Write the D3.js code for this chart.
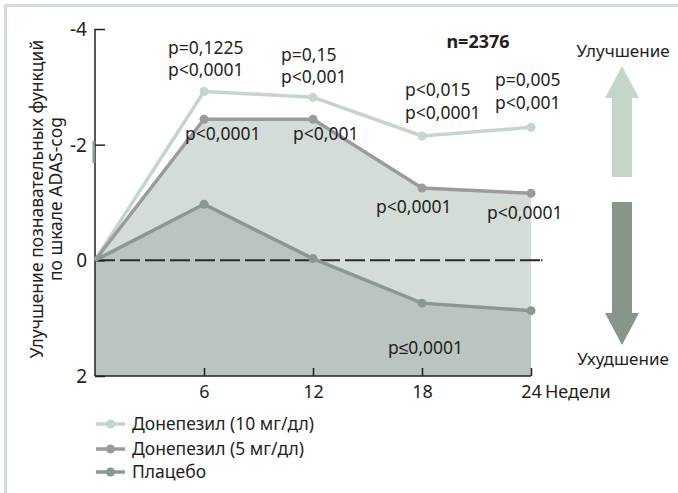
<!DOCTYPE html>
<html>
<head>
<meta charset="utf-8">
<script src="https://cdn.jsdelivr.net/npm/d3@7"></script>
<style>
body { margin: 0; background: #fff; }
svg text { font-family: "Noto Sans", sans-serif; fill: #231f20; }
</style>
</head>
<body>
<svg width="678" height="493"></svg>
<script>
// weeks and score change (negative = improvement)
var weeks = [0, 6, 12, 18, 24];
var donepezil10 = [0, -2.92, -2.82, -2.15, -2.3];
var donepezil5 = [0, -2.44, -2.44, -1.25, -1.16];
var placebo = [0, -0.97, -0.03, 0.74, 0.87];
var yTicks = [-4, -2, 0, 2];
var xTicks = [6, 12, 18, 24];

var seriesNames = ["Донепезил (10 мг/дл)", "Донепезил (5 мг/дл)", "Плацебо"];
var seriesColors = ["#c4d6ca", "#9b9b9f", "#8a998e"];

// p-value notes
var notes = [
	{t: "p=0,1225", x: 168, y: 54}, {t: "p<0,0001", x: 168, y: 76},
	{t: "p=0,15", x: 281, y: 61}, {t: "p<0,001", x: 281, y: 83},
	{t: "p<0,0001", x: 185, y: 140}, {t: "p<0,001", x: 293, y: 140},
	{t: "p<0,015", x: 405, y: 96}, {t: "p<0,0001", x: 405, y: 119},
	{t: "p=0,005", x: 495, y: 86}, {t: "p<0,001", x: 495, y: 109},
	{t: "p<0,0001", x: 376, y: 213}, {t: "p<0,0001", x: 487, y: 219},
	{t: "p≤0,0001", x: 388, y: 354}
];

var svg = d3.select("svg");
var x = d3.scaleLinear().domain([0, 24]).range([95, 531]);
var y = d3.scaleLinear().domain([-4, 2]).range([29, 376]);

// frame
svg.append("path").attr("d", "M5.5,493V5.5H678")
	.attr("fill", "none").attr("stroke", "#cfe0d3").attr("stroke-width", 3);

function pts(vals) { return weeks.map((w, i) => [w, vals[i]]); }

// filled areas
var area = d3.area().x(d => x(d[0])).y0(y(2)).y1(d => y(d[1]));
svg.append("path").datum(pts(donepezil5)).attr("d", area).attr("fill", "#d4dcd8");
svg.append("path").datum(pts(placebo)).attr("d", area).attr("fill", "#bac5bf");

// zero dashed line
svg.append("line").attr("x1", x(0)).attr("x2", 540).attr("y1", y(0)).attr("y2", y(0))
	.attr("stroke", "#2a2a2a").attr("stroke-width", 2).attr("stroke-dasharray", "20,5");
svg.append("rect").attr("x", 541).attr("y", y(0) - 1).attr("width", 1.5).attr("height", 2).attr("fill", "#2a2a2a");

// axes
var yAxis = svg.append("g").attr("transform", "translate(95,0)")
	.call(d3.axisRight(y).tickValues(yTicks).tickSize(10).tickFormat(d => d < 0 ? "-" + Math.abs(d) : d));
yAxis.select(".domain").attr("stroke", "#231f20").attr("stroke-width", 1.5).attr("d", "M0," + y(-4) + "V" + y(2));
yAxis.selectAll(".tick line").attr("stroke", "#231f20").attr("stroke-width", 1.5);
yAxis.selectAll(".tick text").attr("x", -8).attr("text-anchor", "end")
	.style("font-size", "19px").attr("dy", "0.35em");
svg.append("rect").attr("x", 92.5).attr("y", 141).attr("width", 2.5).attr("height", 22).attr("fill", "#8a998e");

var xAxis = svg.append("g").attr("transform", "translate(0," + y(2) + ")")
	.call(d3.axisTop(x).tickValues(xTicks).tickSize(8));
xAxis.select(".domain").attr("stroke", "#231f20").attr("stroke-width", 1.5).attr("d", "M" + x(0) + ",0H" + x(24));
xAxis.selectAll(".tick line").attr("stroke", "#231f20").attr("stroke-width", 1.5);
xAxis.selectAll(".tick text").attr("y", 22).attr("dy", 0).style("font-size", "18px");
svg.append("text").attr("x", x(24) + 14).attr("y", y(2) + 22).style("font-size", "18px").text("Недели");

// lines
var line = d3.line().x(d => x(d[0])).y(d => y(d[1]));
[donepezil10, donepezil5, placebo].forEach(function(vals, k) {
	var g = svg.append("g");
	g.append("path").datum(pts(vals)).attr("d", line)
		.attr("fill", "none").attr("stroke", seriesColors[k]).attr("stroke-width", 3.5);
	g.selectAll("circle").data(pts(vals).slice(1)).enter().append("circle")
		.attr("cx", d => x(d[0])).attr("cy", d => y(d[1])).attr("r", 4.5).attr("fill", seriesColors[k]);
});

// notes
svg.selectAll(".note").data(notes).enter().append("text").attr("class", "note")
	.attr("x", d => d.x).attr("y", d => d.y).style("font-size", "17.5px").text(d => d.t);

svg.append("text").attr("x", 478).attr("y", 48).attr("text-anchor", "middle")
	.style("font-size", "18px").style("font-weight", "bold").text("n=2376");

// y title
var yt = svg.append("text").attr("transform", "translate(0,199) rotate(-90)")
	.attr("text-anchor", "middle").style("font-size", "17.5px");
yt.append("tspan").attr("x", 0).attr("y", 43).text("Улучшение познавательных функций");
yt.append("tspan").attr("x", 0).attr("y", 62).text("по шкале ADAS-cog");

// arrows
svg.append("path").attr("fill", "#c4d6ca")
	.attr("d", "M622,66L639,98H632V177H612V98H605Z");
svg.append("path").attr("fill", "#87958b")
	.attr("d", "M612,202H632V313H639L622,345L605,313H612Z");
svg.append("text").attr("x", 623).attr("y", 57).attr("text-anchor", "middle").style("font-size", "17px").text("Улучшение");
svg.append("text").attr("x", 623).attr("y", 365).attr("text-anchor", "middle").style("font-size", "17px").text("Ухудшение");

// legend
var leg = svg.selectAll(".leg").data(seriesNames).enter().append("g")
	.attr("transform", (d, i) => "translate(96," + [424, 449, 472][i] + ")");
leg.append("line").attr("x1", 0).attr("x2", 29).attr("stroke", (d, i) => seriesColors[i]).attr("stroke-width", 3.5);
leg.append("circle").attr("cx", 14.5).attr("r", 4.5).attr("fill", (d, i) => seriesColors[i]);
leg.append("text").attr("x", 36).attr("dy", "0.35em").style("font-size", "17.5px").text(d => d);
</script>
</body>
</html>
